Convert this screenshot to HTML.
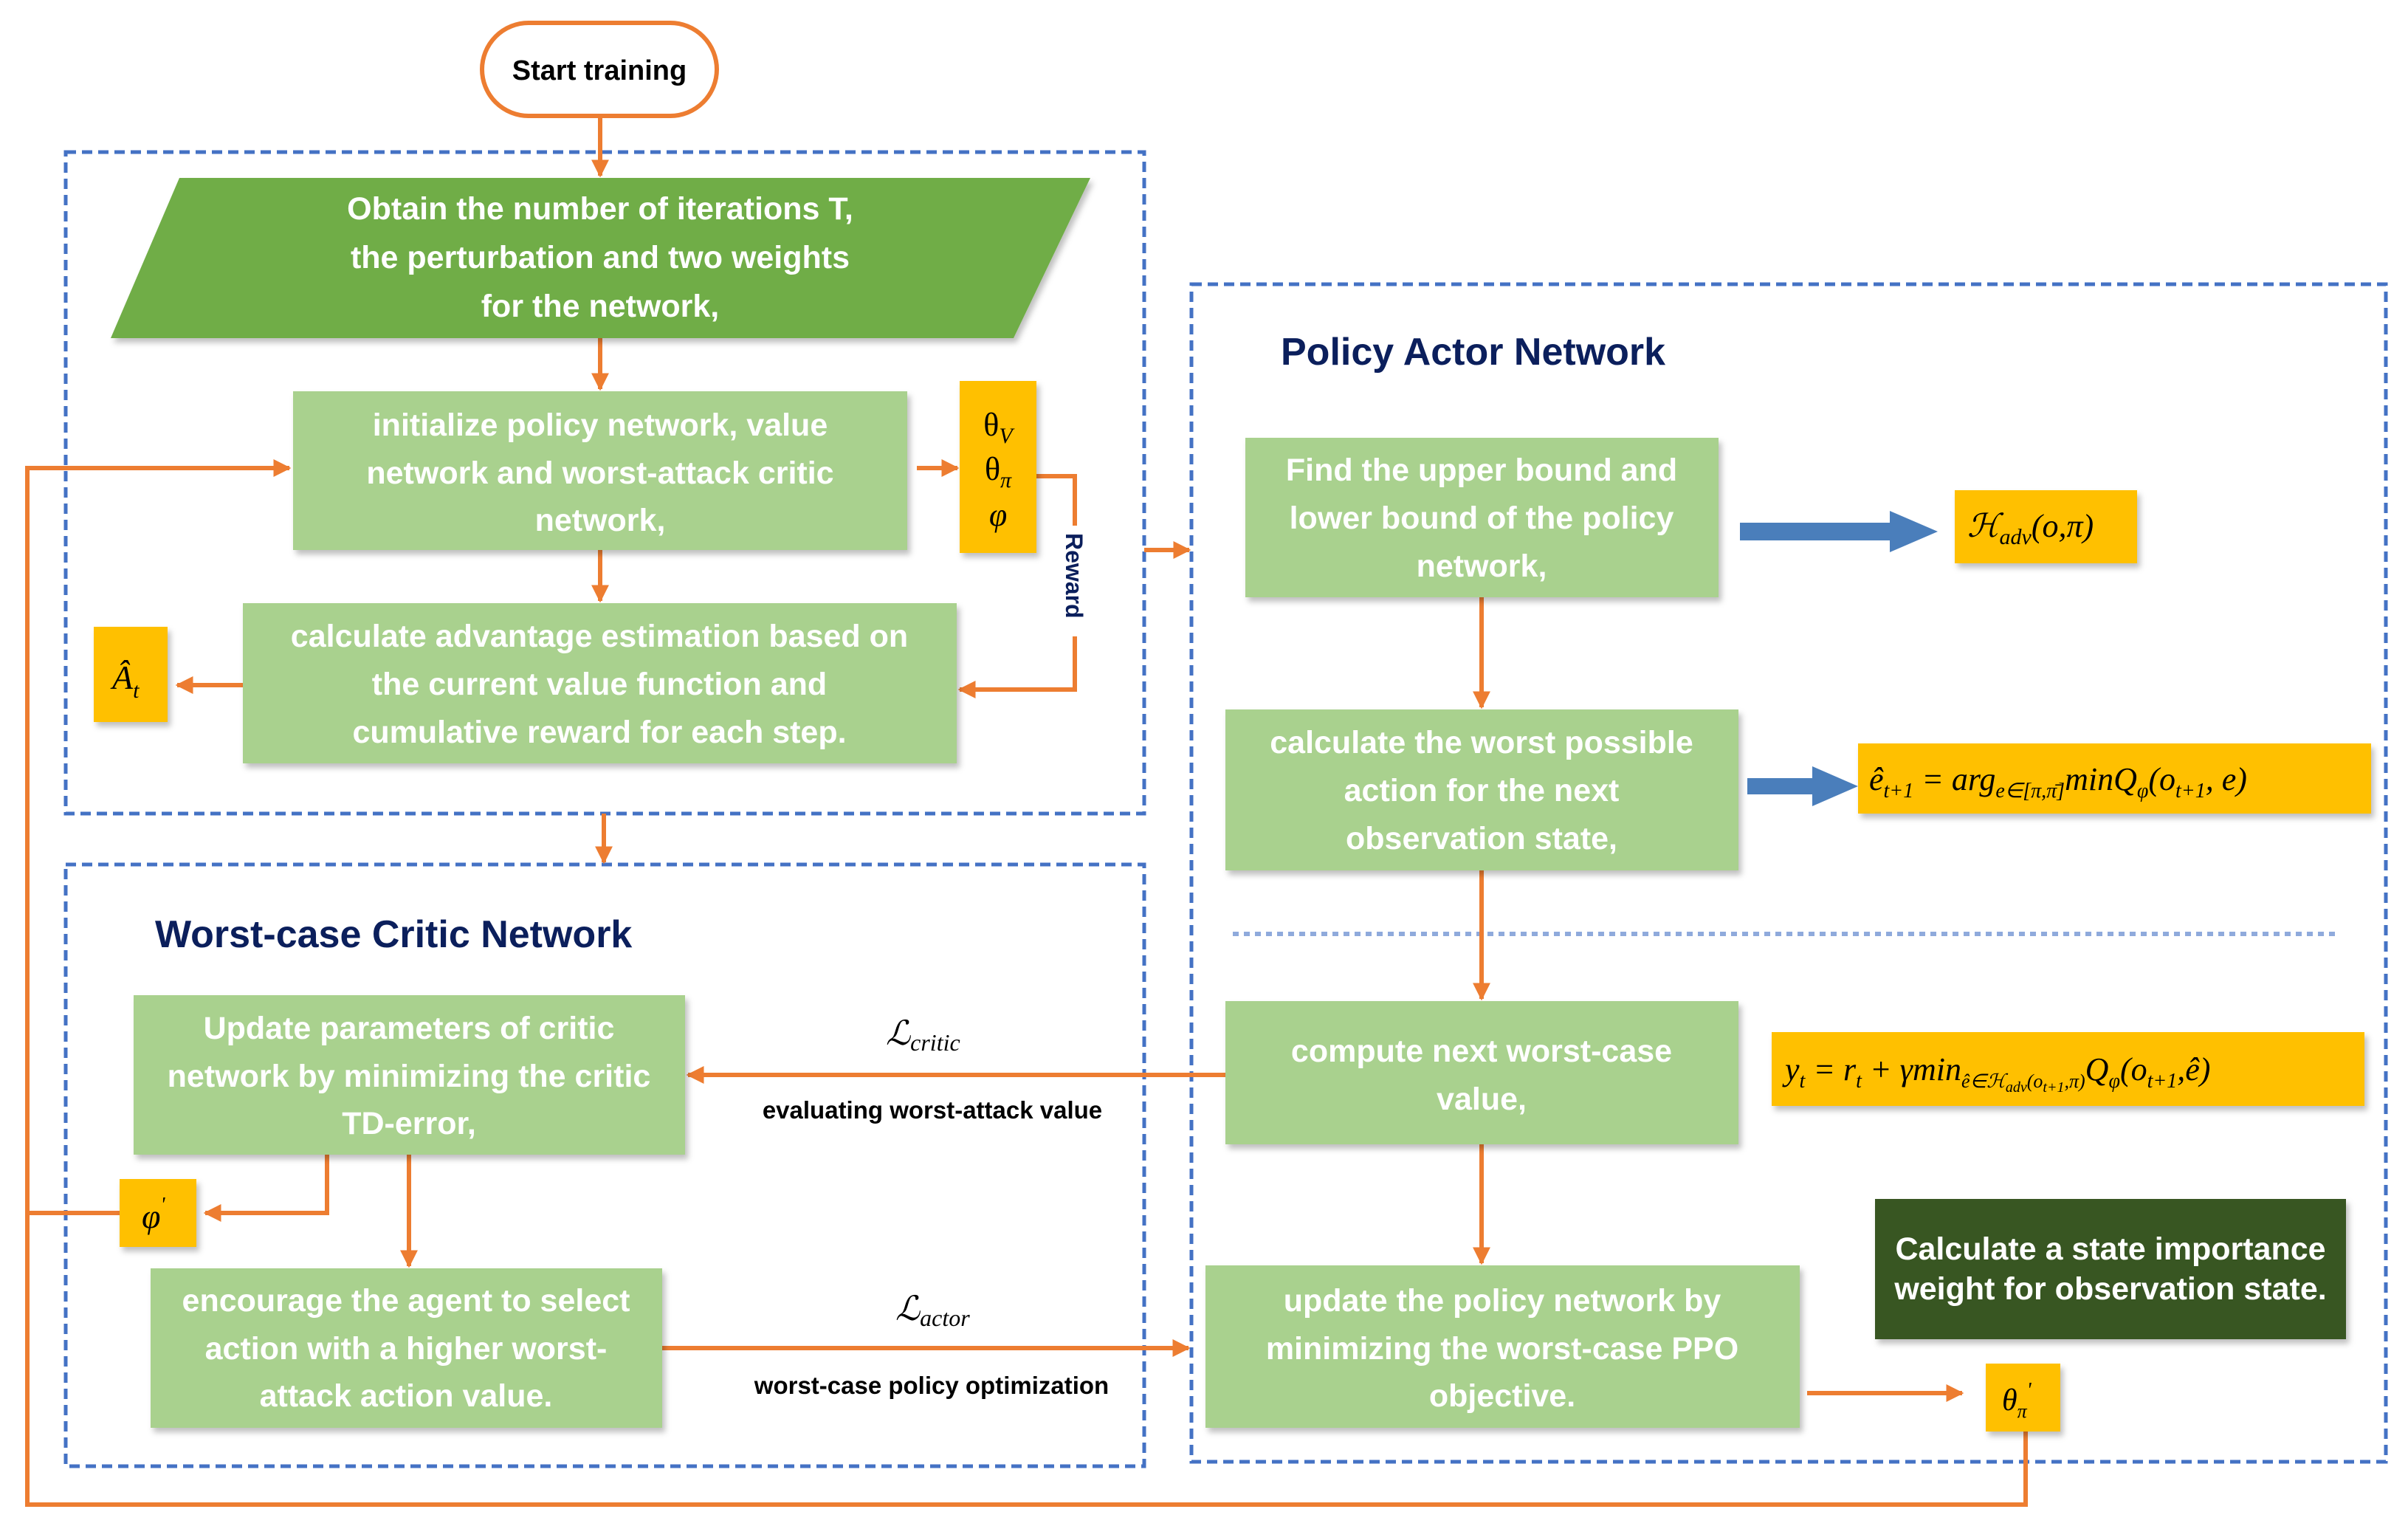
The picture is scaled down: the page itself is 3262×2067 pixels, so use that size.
<!DOCTYPE html>
<html><head><meta charset="utf-8"><style>
html,body{margin:0;padding:0;background:#fff;}
svg{display:block;}
.bt{font-family:"Liberation Sans",sans-serif;font-weight:bold;fill:#fff;font-size:43px;text-anchor:middle;}
.m{font-family:"Liberation Serif",serif;font-style:italic;fill:#000;}
.h{font-family:"Liberation Sans",sans-serif;font-weight:bold;fill:#0b1f5c;font-size:52px;}
.lb{font-family:"Liberation Sans",sans-serif;font-weight:bold;fill:#000;font-size:33px;text-anchor:middle;}
</style></head><body>
<svg width="3262" height="2067" viewBox="0 0 3262 2067" xmlns="http://www.w3.org/2000/svg">
<defs>
<marker id="a" viewBox="0 0 10 10" refX="9" refY="5" markerWidth="4" markerHeight="4" orient="auto-start-reverse"><path d="M0,0 L10,5 L0,10 z" fill="#ED7D31"/></marker>
<filter id="s" x="-5%" y="-5%" width="115%" height="120%"><feDropShadow dx="4" dy="6" stdDeviation="4" flood-color="#000" flood-opacity="0.25"/></filter>
</defs>
<g fill="none" stroke="#4472C4" stroke-width="5" stroke-dasharray="14,8">
<rect x="89" y="206" width="1461" height="896"/>
<rect x="89" y="1171" width="1461" height="815"/>
<rect x="1614" y="385" width="1618" height="1595"/>
</g>
<line x1="1670" y1="1265" x2="3170" y2="1265" stroke="#8FAADC" stroke-width="6" stroke-dasharray="8,7"/>

<g stroke="#ED7D31" stroke-width="6" fill="none">
<line x1="813" y1="158" x2="813" y2="238" marker-end="url(#a)"/>
<line x1="813" y1="458" x2="813" y2="527" marker-end="url(#a)"/>
<line x1="1242" y1="634" x2="1297" y2="634" marker-end="url(#a)"/>
<polyline points="1404,645 1456,645 1456,934 1300,934" marker-end="url(#a)"/>
<line x1="813" y1="745" x2="813" y2="814" marker-end="url(#a)"/>
<line x1="329" y1="928" x2="240" y2="928" marker-end="url(#a)"/>
<polyline points="2744,1939 2744,2038 37,2038 37,634 392,634" marker-end="url(#a)"/>
<line x1="37" y1="1643" x2="162" y2="1643"/>
<line x1="818" y1="1102" x2="818" y2="1168" marker-end="url(#a)"/>
<line x1="1550" y1="745" x2="1611" y2="745" marker-end="url(#a)"/>
<polyline points="443,1564 443,1643 278,1643" marker-end="url(#a)"/>
<line x1="554" y1="1564" x2="554" y2="1715" marker-end="url(#a)"/>
<line x1="897" y1="1826" x2="1610" y2="1826" marker-end="url(#a)"/>
<line x1="1660" y1="1456" x2="932" y2="1456" marker-end="url(#a)"/>
<line x1="2007" y1="809" x2="2007" y2="958" marker-end="url(#a)"/>
<line x1="2007" y1="1179" x2="2007" y2="1353" marker-end="url(#a)"/>
<line x1="2007" y1="1550" x2="2007" y2="1711" marker-end="url(#a)"/>
<line x1="2448" y1="1887" x2="2658" y2="1887" marker-end="url(#a)"/>
</g>

<rect x="653" y="31" width="318" height="126" rx="63" fill="#fff" stroke="#ED7D31" stroke-width="6"/>
<text x="812" y="108" font-family="Liberation Sans,sans-serif" font-weight="bold" font-size="38" text-anchor="middle" fill="#000">Start training</text>

<polygon points="243,241 1477,241 1373,458 150,458" fill="#70AD47" filter="url(#s)"/>
<text class="bt" x="813" y="297">Obtain the number of iterations T,</text>
<text class="bt" x="813" y="363">the perturbation and two weights</text>
<text class="bt" x="813" y="429">for the network,</text>

<g fill="#A9D18E" filter="url(#s)">
<rect x="397" y="530" width="832" height="215"/>
<rect x="329" y="817" width="967" height="217"/>
<rect x="181" y="1348" width="747" height="216"/>
<rect x="204" y="1718" width="693" height="216"/>
<rect x="1687" y="593" width="641" height="216"/>
<rect x="1660" y="961" width="695" height="218"/>
<rect x="1660" y="1356" width="695" height="194"/>
<rect x="1633" y="1714" width="805" height="220"/>
</g>
<rect x="2540" y="1624" width="638" height="190" fill="#375623" filter="url(#s)"/>
<g fill="#FFC000" filter="url(#s)">
<rect x="1300" y="516" width="104" height="233"/>
<rect x="127" y="849" width="100" height="129"/>
<rect x="162" y="1597" width="104" height="92"/>
<rect x="2648" y="664" width="247" height="99"/>
<rect x="2517" y="1007" width="695" height="95"/>
<rect x="2400" y="1398" width="803" height="100"/>
<rect x="2690" y="1847" width="101" height="92"/>
</g>

<text class="bt" x="813" y="590">initialize policy network, value</text>
<text class="bt" x="813" y="655">network and worst-attack critic</text>
<text class="bt" x="813" y="719">network,</text>
<text class="bt" x="812" y="876">calculate advantage estimation based on</text>
<text class="bt" x="812" y="941">the current value function and</text>
<text class="bt" x="812" y="1006">cumulative reward for each step.</text>
<text class="bt" x="554" y="1407">Update parameters of critic</text>
<text class="bt" x="554" y="1472">network by minimizing the critic</text>
<text class="bt" x="554" y="1536">TD-error,</text>
<text class="bt" x="550" y="1776">encourage the agent to select</text>
<text class="bt" x="550" y="1841">action with a higher worst-</text>
<text class="bt" x="550" y="1905">attack action value.</text>
<text class="bt" x="2007" y="651">Find the upper bound and</text>
<text class="bt" x="2007" y="716">lower bound of the policy</text>
<text class="bt" x="2007" y="781">network,</text>
<text class="bt" x="2007" y="1020">calculate the worst possible</text>
<text class="bt" x="2007" y="1085">action for the next</text>
<text class="bt" x="2007" y="1150">observation state,</text>
<text class="bt" x="2007" y="1438">compute next worst-case</text>
<text class="bt" x="2007" y="1503">value,</text>
<text class="bt" x="2035" y="1776">update the policy network by</text>
<text class="bt" x="2035" y="1841">minimizing the worst-case PPO</text>
<text class="bt" x="2035" y="1905">objective.</text>
<text class="bt" x="2859" y="1706" font-size="38">Calculate a state importance</text>
<text class="bt" x="2859" y="1760" font-size="38">weight for observation state.</text>

<text class="h" x="1735" y="494">Policy Actor Network</text>
<text class="h" x="210" y="1283">Worst-case Critic Network</text>

<rect x="1436" y="712" width="40" height="150" fill="#fff"/>
<text transform="translate(1444,722) rotate(90)" font-family="Liberation Sans,sans-serif" font-weight="bold" font-size="32" fill="#0b1f5c">Reward</text>

<g class="m">
<text x="1352" y="590" font-size="44" text-anchor="middle" font-style="normal">θ<tspan font-size="30" font-style="italic" dy="10">V</tspan></text>
<text x="1352" y="650" font-size="44" text-anchor="middle" font-style="normal">θ<tspan font-size="30" font-style="italic" dy="10">π</tspan></text>
<text x="1352" y="712" font-size="44" text-anchor="middle">φ</text>
<text x="152" y="933" font-size="46">Â<tspan font-size="30" dy="12">t</tspan></text>
<text x="192" y="1663" font-size="46">φ<tspan font-size="28" dy="-22">'</tspan></text>
<text x="2712" y="1910" font-size="42">θ<tspan font-size="26" dy="10">π</tspan><tspan font-size="28" dy="-28">'</tspan></text>
<text x="2665" y="727" font-size="44">ℋ<tspan font-size="30" dy="10">adv</tspan><tspan dy="-10">(o,π)</tspan></text>
<text x="2532" y="1070" font-size="44">ê<tspan font-size="28" dy="10">t+1</tspan><tspan dy="-10"> = arg</tspan><tspan font-size="28" dy="10">e∈[π,π̄]</tspan><tspan dy="-10">minQ</tspan><tspan font-size="28" dy="10">φ</tspan><tspan dy="-10">(o</tspan><tspan font-size="28" dy="10">t+1</tspan><tspan dy="-10">, e)</tspan></text>
<text x="2418" y="1463" font-size="44">y<tspan font-size="28" dy="10">t</tspan><tspan dy="-10"> = r</tspan><tspan font-size="28" dy="10">t</tspan><tspan dy="-10"> + γmin</tspan><tspan font-size="26" dy="10">ê∈ℋ</tspan><tspan font-size="20" dy="6">adv</tspan><tspan font-size="26" dy="-6">(o</tspan><tspan font-size="20" dy="6">t+1</tspan><tspan font-size="26" dy="-6">,π)</tspan><tspan dy="-10">Q</tspan><tspan font-size="28" dy="10">φ</tspan><tspan dy="-10">(o</tspan><tspan font-size="28" dy="10">t+1</tspan><tspan dy="-10">,ê)</tspan></text>
<text x="1200" y="1415" font-size="46">ℒ<tspan font-size="32" dy="8">critic</tspan></text>
<text x="1213" y="1788" font-size="46">ℒ<tspan font-size="32" dy="8">actor</tspan></text>
</g>
<text class="lb" x="1263" y="1515">evaluating worst-attack value</text>
<text class="lb" x="1262" y="1888">worst-case policy optimization</text>

<g fill="#4A7EBB">
<polygon points="2357,708 2560,708 2560,692 2625,720 2560,748 2560,732 2357,732"/>
<polygon points="2367,1054 2455,1054 2455,1038 2517,1065 2455,1092 2455,1076 2367,1076"/>
</g>
</svg>
</body></html>
